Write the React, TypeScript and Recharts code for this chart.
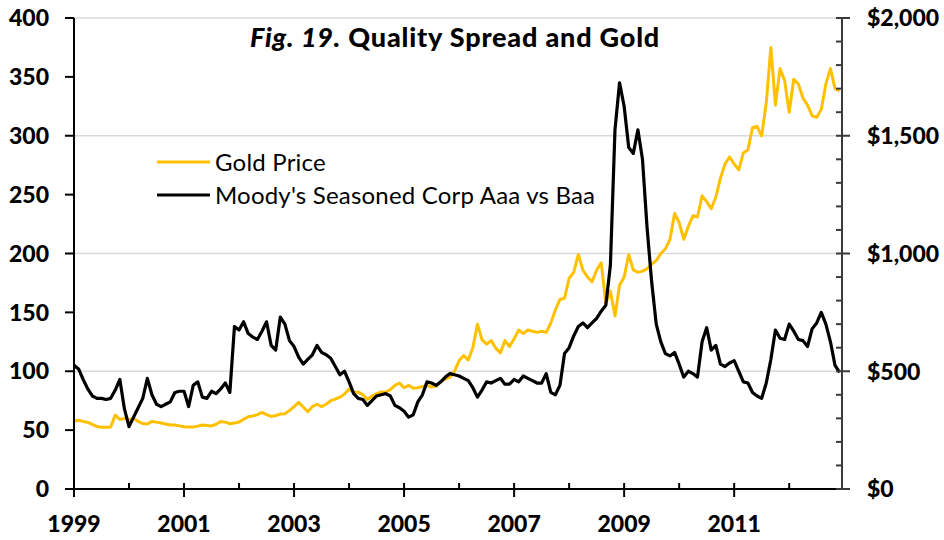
import React from 'react';
import { LineChart, Line, XAxis, YAxis, ReferenceLine } from 'recharts';

// monthly readings, Jan 1999 .. Dec 2012
const spread = [
  105, 102, 93, 85, 79, 77, 77, 76, 77, 84, 93, 68,
  53, 61, 69, 77, 94, 80, 72, 70, 72, 74, 82, 83,
  83, 70, 88, 91, 78, 77, 83, 81, 85, 90, 82, 138,
  135, 142, 132, 129, 127, 134, 142, 122, 118, 146, 140, 126,
  121, 112, 106, 110, 114, 122, 116, 114, 111, 104, 97, 100,
  91, 81, 77, 76, 71, 75, 79, 80, 81, 79, 71, 69,
  66, 61, 63, 74, 80, 91, 90, 88, 91, 95, 98, 97,
  96, 94, 92, 86, 78, 84, 91, 90, 92, 94, 89, 89,
  93, 91, 96, 94, 92, 90, 90, 98, 82, 80, 88, 115,
  120, 130, 138, 141, 137, 141, 145, 151, 156, 190, 305, 345,
  325, 290, 285, 305, 280, 222, 176, 140, 125, 115, 113, 116,
  106, 95, 100, 98, 95, 125, 137, 118, 122, 106, 104, 107,
  109, 100, 91, 90, 82, 79, 77, 90, 110, 135, 128, 127,
  140, 134, 127, 126, 121, 136, 141, 150, 140, 125, 105, 99,
];

const gold = [
  289, 292, 287, 283, 274, 265, 262, 262, 263, 314, 295, 300,
  293, 300, 287, 278, 276, 287, 284, 280, 276, 272, 272, 268,
  264, 263, 263, 267, 272, 270, 268, 275, 287, 284, 277, 280,
  284, 296, 307, 310, 316, 325, 316, 308, 312, 318, 320, 333,
  350, 368, 348, 328, 350, 360, 350, 360, 375, 382, 390, 403,
  425, 410, 412, 400, 380, 395, 405, 412, 412, 422, 440, 450,
  430, 440, 428, 430, 435, 440, 433, 437, 455, 467, 475, 500,
  545, 567, 548, 600, 700, 633, 615, 630, 598, 578, 630, 605,
  638, 675, 660, 675, 670, 665, 670, 665, 705, 760, 805, 810,
  895, 920, 995, 930, 900, 880, 930, 960, 790, 840, 735, 865,
  900, 995, 930, 920, 925, 935, 955, 970, 1000, 1020, 1060, 1170,
  1132, 1060, 1115, 1160, 1155, 1245, 1220, 1190, 1240, 1320, 1380, 1410,
  1380, 1355, 1427, 1440, 1535, 1540, 1500, 1640, 1875, 1630, 1785, 1735,
  1600, 1740, 1720, 1660, 1630, 1585, 1578, 1612, 1720, 1785, 1700, 1690,
];

const xTicks = [1999, 2000, 2001, 2002, 2003, 2004, 2005, 2006, 2007, 2008, 2009, 2010, 2011, 2012];
const leftTicks = [0, 50, 100, 150, 200, 250, 300, 350, 400];
const rightTicks = [0, 100, 200, 300, 400, 500, 600, 700, 800, 900, 1000, 1100, 1200, 1300, 1400, 1500, 1600, 1700, 1800, 1900, 2000];
const gridLevels = [100, 200, 300, 400];

const legendItems = [
  { name: 'Gold Price', color: '#FFC000' },
  { name: "Moody's Seasoned Corp Aaa vs Baa", color: '#000000' },
];

const data = spread.map((s, i) => ({ t: 1999 + i / 12, spread: s, gold: gold[i] }));

const FONT = 'Lato, "Open Sans", sans-serif';
const HEAVY = 900;

const XTick = ({ x, y, payload }: any) => {
  const major = (payload.value - 1999) % 2 === 0;
  return (
    <g>
      <line x1={x} x2={x} y1={y - 6} y2={major ? y + 8 : y} stroke="#000" strokeWidth={2} />
      {major && (
        <text x={x} y={y + 43} textAnchor="middle" fontFamily={FONT} fontWeight={HEAVY} fontSize={23} fill="#000">
          {payload.value}
        </text>
      )}
    </g>
  );
};

const RightTick = ({ x, y, payload }: any) => {
  const major = payload.value % 500 === 0;
  return (
    <g>
      <line x1={x - 6} x2={major ? x + 8 : x} y1={y} y2={y} stroke="#3a3a3a" strokeWidth={2} />
      {major && (
        <text x={x + 25} y={y} dy="0.36em" textAnchor="start" fontFamily={FONT} fontWeight={HEAVY} fontSize={23} fill="#000">
          {'$' + payload.value.toLocaleString('en-US')}
        </text>
      )}
    </g>
  );
};

export default function App() {
  return (
    <div style={{ position: 'absolute', left: 0, top: 0, width: 944, height: 540, background: '#fff' }}>
      <LineChart width={944} height={540} data={data} margin={{ top: 18, right: 0, bottom: 0, left: 0 }}>
        {gridLevels.map((v) => (
          <ReferenceLine key={v} yAxisId="left" y={v} stroke="#d9d9d9" strokeWidth={1.5} />
        ))}
        <XAxis
          dataKey="t"
          type="number"
          domain={[1999, 2012.96]}
          ticks={xTicks}
          interval={0}
          height={51}
          tickSize={0}
          tickMargin={0}
          tickLine={false}
          axisLine={{ stroke: '#000', strokeWidth: 2 }}
          tick={<XTick />}
        />
        <YAxis
          yAxisId="left"
          domain={[0, 400]}
          ticks={leftTicks}
          interval={0}
          width={74}
          tickSize={9}
          tickMargin={16}
          axisLine={{ stroke: '#000', strokeWidth: 2 }}
          tickLine={{ stroke: '#000', strokeWidth: 2 }}
          tick={{ fill: '#000', fontSize: 23, fontWeight: HEAVY, fontFamily: FONT }}
        />
        <YAxis
          yAxisId="right"
          orientation="right"
          domain={[0, 2000]}
          ticks={rightTicks}
          interval={0}
          width={102}
          tickSize={0}
          tickMargin={0}
          tickLine={false}
          axisLine={{ stroke: '#3a3a3a', strokeWidth: 2 }}
          tick={<RightTick />}
        />
        <Line yAxisId="right" dataKey="gold" stroke="#FFC000" strokeWidth={3} dot={false} strokeLinejoin="round" isAnimationActive={false} />
        <Line yAxisId="left" dataKey="spread" stroke="#000" strokeWidth={3.2} dot={false} strokeLinejoin="round" isAnimationActive={false} />
      </LineChart>
      <svg width={944} height={540} style={{ position: 'absolute', left: 0, top: 0, pointerEvents: 'none' }}>
        <text x={455} y={47} textAnchor="middle" fontFamily={FONT} fontWeight={HEAVY} fontSize={27} letterSpacing={0.8} fill="#000">
          <tspan fontStyle="italic">Fig. 19.</tspan>
          <tspan> Quality Spread and Gold</tspan>
        </text>
        {legendItems.map((item, i) => (
          <g key={item.name}>
            <line x1={157} x2={210} y1={162 + i * 33} y2={162 + i * 33} stroke={item.color} strokeWidth={3} />
            <text x={215} y={162 + i * 33 + 9} fontFamily={FONT} fontSize={24} letterSpacing={0.2} fill="#000">
              {item.name}
            </text>
          </g>
        ))}
      </svg>
    </div>
  );
}
